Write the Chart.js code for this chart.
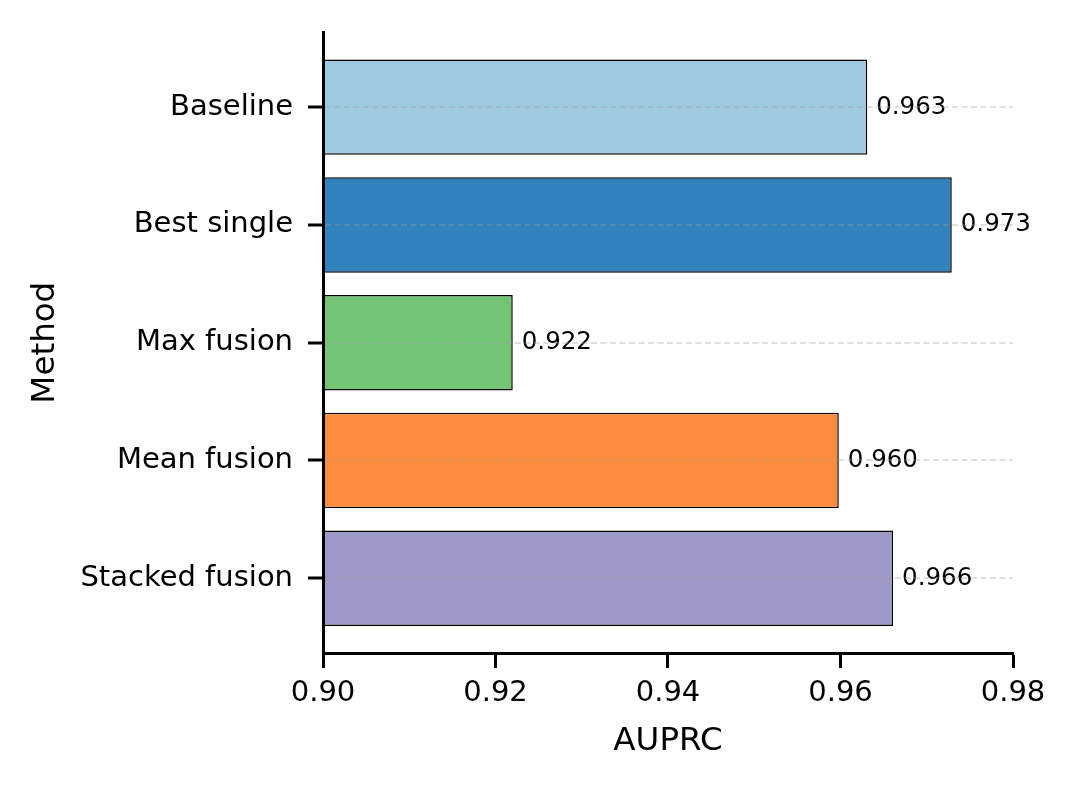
<!DOCTYPE html>
<html>
<head>
<meta charset="utf-8">
<script src="https://cdn.jsdelivr.net/npm/chart.js@4"></script>
<style>
	html, body { margin: 0; padding: 0; background: #fff; }
	canvas { display: block; }
</style>
</head>
<body>
<canvas id="chart" width="1075" height="790"></canvas>
<script>
(function () {
	'use strict';

	// --- Data ---

	const methods = ['Baseline', 'Best single', 'Max fusion', 'Mean fusion', 'Stacked fusion'];
	const auprc = [0.9631, 0.9729, 0.9220, 0.9598, 0.9661];
	const barColors = ['#9ecae1', '#3182bd', '#74c476', '#fd8d3c', '#9e9ac8'];
	const xTicks = [0.90, 0.92, 0.94, 0.96, 0.98];

	const FONT = "'DejaVu Sans', sans-serif";
	const X_MIN = xTicks[0];
	const X_MAX = xTicks[xTicks.length - 1];
	const Y_PAD = 0.635;

	// --- Value labels at the bar ends ---

	const valueLabels = {
		id: 'valueLabels',
		afterDatasetsDraw(chart) {
			const ctx = chart.ctx;
			const meta = chart.getDatasetMeta(0);
			ctx.save();
			ctx.font = '24.5px ' + FONT;
			ctx.fillStyle = '#000';
			ctx.textAlign = 'left';
			ctx.textBaseline = 'middle';
			meta.data.forEach((bar, i) => {
				ctx.fillText(auprc[i].toFixed(3), bar.x + 9, bar.y);
			});
			ctx.restore();
		},
	};

	Chart.defaults.font.family = FONT;
	Chart.defaults.color = '#000';

	new Chart(document.getElementById('chart'), {
		type: 'bar',
		data: {
			datasets: [{
				data: auprc.map((v, i) => ({ x: v, y: i })),
				base: X_MIN,
				backgroundColor: barColors,
				borderColor: '#000',
				borderWidth: 1.5,
				borderSkipped: false,
				barPercentage: 0.81,
				categoryPercentage: 1,
			}],
		},
		options: {
			indexAxis: 'y',
			responsive: false,
			animation: false,
			devicePixelRatio: 1,
			layout: { padding: { left: 0, top: 30, right: 62, bottom: 0 } },
			plugins: {
				legend: { display: false },
				tooltip: { enabled: false },
			},
			scales: {
				x: {
					type: 'linear',
					min: X_MIN,
					max: X_MAX,
					afterBuildTicks: (scale) => {
						scale.ticks = xTicks.map(v => ({ value: v }));
					},
					afterFit: (scale) => { scale.height = 137; },
					ticks: {
						font: { size: 29 },
						padding: 8,
						maxRotation: 0,
						callback: (v) => Number(v).toFixed(2),
					},
					grid: {
						drawOnChartArea: false,
						drawTicks: true,
						tickLength: 15,
						tickWidth: 3,
						tickColor: '#000',
					},
					border: { display: true, color: '#000', width: 3, z: 2 },
					title: {
						display: true,
						text: 'AUPRC',
						font: { size: 32.5 },
						padding: { top: 0, bottom: 29 },
					},
				},
				y: {
					type: 'linear',
					reverse: true,
					offset: false,
					min: -Y_PAD,
					max: methods.length - 1 + Y_PAD,
					afterBuildTicks: (scale) => {
						scale.ticks = methods.map((m, i) => ({ value: i }));
					},
					afterFit: (scale) => { scale.width = 323; },
					ticks: {
						font: { size: 29 },
						padding: 15,
						callback: (v) => methods[v],
					},
					grid: {
						z: 1,
						offset: false,
						color: 'rgba(160, 160, 160, 0.33)',
						lineWidth: 2,
						drawTicks: true,
						tickLength: 15,
						tickWidth: 3,
						tickColor: '#000',
						tickBorderDash: [],
					},
					border: { display: true, color: '#000', width: 3, z: 2, dash: [6, 3.5] },
					title: {
						display: true,
						text: 'Method',
						font: { size: 32.5 },
						padding: { top: 26, bottom: 0 },
					},
				},
			},
		},
		plugins: [valueLabels],
	});
})();
</script>
</body>
</html>
